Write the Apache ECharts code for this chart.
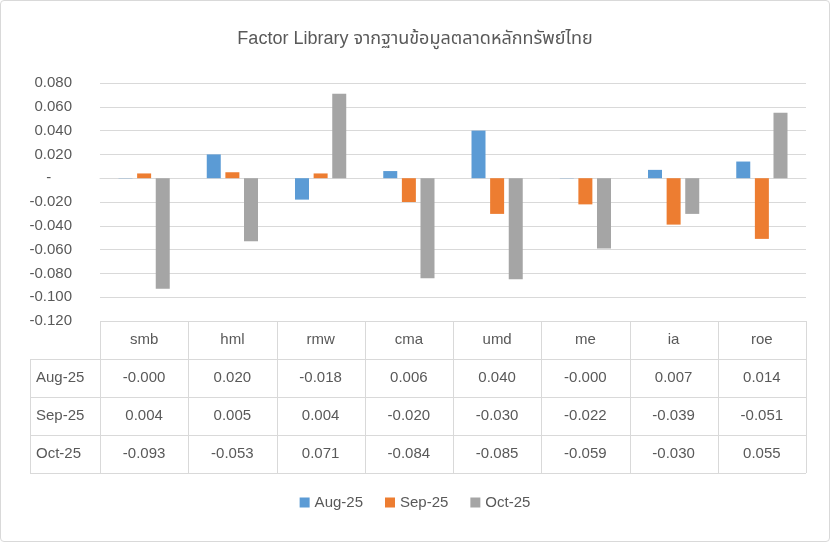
<!DOCTYPE html>
<html><head><meta charset="utf-8">
<script src="https://cdn.jsdelivr.net/npm/echarts@6/dist/echarts.min.js"></script>
<style>html,body{margin:0;padding:0;background:#fff}#c{width:828px;height:540px;border:1px solid #D9D9D9;border-radius:4px}</style>
</head><body><div id="c"></div>
<script>
const categories = ['smb','hml','rmw','cma','umd','me','ia','roe'];
const seriesNames = ['Aug-25','Sep-25','Oct-25'];
const aug = [-0.0002,0.020,-0.018,0.006,0.040,-0.0002,0.007,0.014];
const sep = [0.004,0.005,0.004,-0.020,-0.030,-0.022,-0.039,-0.051];
const oct = [-0.093,-0.053,0.071,-0.084,-0.085,-0.059,-0.030,0.055];
const colors = ['#5B9BD5','#ED7D31','#A5A5A5'];
const all = [aug,sep,oct];

const W=828, H=540;
const L=99, R=805, T=82, B=320, rowH=38, labL=29;
const cw=(R-L)/categories.length;
const font="Arial, 'Liberation Sans', 'Noto Sans Thai', sans-serif";
const g=[];
const lineStyle={stroke:'#D9D9D9',lineWidth:1};
for(let i=0;i<=categories.length;i++){
  const x=Math.round(L+i*cw)+0.5;
  g.push({type:'line',shape:{x1:x,y1:B,x2:x,y2:B+rowH*4},style:lineStyle});
}
g.push({type:'line',shape:{x1:labL+0.5,y1:B+rowH,x2:labL+0.5,y2:B+rowH*4},style:lineStyle});
for(let r=1;r<=4;r++){
  const y=B+rowH*r+0.5;
  g.push({type:'line',shape:{x1:labL,y1:y,x2:R,y2:y},style:lineStyle});
}
categories.forEach((c,i)=>{
  g.push({type:'text',style:{text:c,x:L+(i+0.5)*cw,y:B+rowH/2,align:'center',verticalAlign:'middle',fill:'#595959',font:'15px '+font}});
});
seriesNames.forEach((s,r)=>{
  const y=B+rowH*(r+1.5);
  g.push({type:'text',style:{text:s,x:labL+6,y:y,align:'left',verticalAlign:'middle',fill:'#595959',font:'15px '+font}});
  all[r].forEach((v,i)=>{
    g.push({type:'text',style:{text:v.toFixed(3),x:L+(i+0.5)*cw,y:y,align:'center',verticalAlign:'middle',fill:'#595959',font:'15px '+font}});
  });
});

const chart=echarts.init(document.getElementById('c'));
chart.setOption({
  animation:false,
  title:{text:'Factor Library จากฐานข้อมูลตลาดหลักทรัพย์ไทย',left:'center',top:24,textStyle:{fontSize:18,fontWeight:'normal',color:'#595959',fontFamily:font}},
  legend:{bottom:26,itemWidth:10,itemHeight:10,itemGap:22,icon:'rect',textStyle:{fontSize:15,color:'#595959',fontFamily:font},data:seriesNames},
  grid:{left:L,right:W-R,top:T,bottom:H-B,containLabel:false},
  xAxis:{type:'category',data:categories,axisLabel:{show:false},axisTick:{show:false},axisLine:{show:true,onZero:true,lineStyle:{color:'#D9D9D9'}}},
  yAxis:{type:'value',min:-0.12,max:0.08,interval:0.02,
    axisLabel:{fontSize:15,color:'#595959',fontFamily:font,margin:28,formatter:v=>Math.abs(v)<1e-9?'-     ':v.toFixed(3)},
    axisLine:{show:false},axisTick:{show:false},splitLine:{lineStyle:{color:'#D9D9D9'}}},
  series:seriesNames.map((n,k)=>({name:n,type:'bar',data:all[k],barWidth:14,barGap:'33%',itemStyle:{color:colors[k]}})),
  graphic:g
});
</script></body></html>
